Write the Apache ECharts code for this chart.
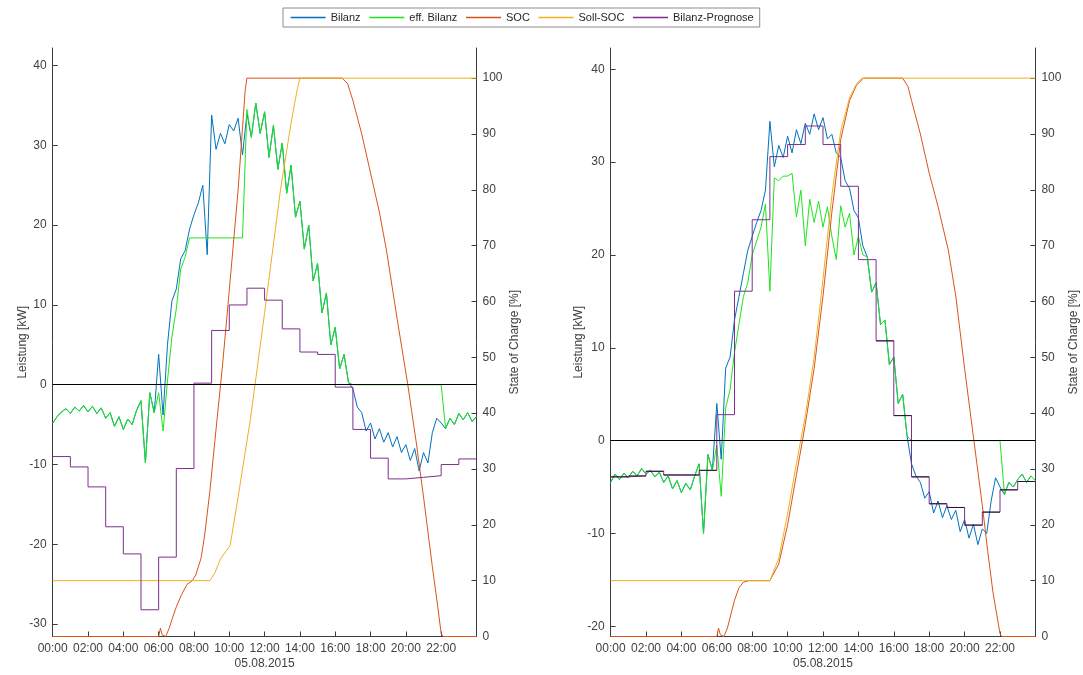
<!DOCTYPE html>
<html>
<head>
<meta charset="utf-8">
<title>Bilanz / SOC 05.08.2015</title>
<script src="https://cdn.jsdelivr.net/npm/echarts@6/dist/echarts.min.js"></script>
<style>
  html, body { margin: 0; padding: 0; background: #fff; }
  #chart { width: 1083px; height: 675px; }
</style>
</head>
<body>
<div id="chart"></div>
<script>
// ---- data ----
const seriesNames = ['Bilanz', 'eff. Bilanz', 'SOC', 'Soll-SOC', 'Bilanz-Prognose']
const dateLabel = '05.08.2015'

// 15 minute grid 00:00 .. 24:00
const hours = Array.from({ length: 97 }, (_, i) => i * 0.25)

// left chart
const bilanzLeft = [
  -4.8, -4.0, -3.4, -3.0, -3.6, -2.8, -3.3, -2.6, -3.4, -2.7, -3.6, -2.9, -4.2, -3.5, -5.2, -4.0, -5.6, -4.3, -5.0, -3.2, -2.0, -9.8, -1.0, -3.5,
  3.8, -3.8, 5.0, 10.5, 12.0, 15.8, 16.8, 19.5, 21.3, 22.8, 25.0, 16.3, 33.8, 29.5, 31.5, 30.2, 32.6, 31.8, 33.4, 28.8,
  34.0, 31.0, 35.3, 31.5, 34.2, 28.5, 32.5, 27.0, 30.3, 24.0, 27.5, 21.0, 23.0, 17.0, 20.0, 13.0, 15.2, 9.0, 11.5, 5.0, 7.2, 2.0, 3.8, 0.3,
  -0.5, -2.8, -3.5, -5.8, -4.8, -6.8, -5.5, -7.2, -6.0, -7.8, -6.5, -8.5, -7.5, -9.5, -8.0, -10.8, -8.5, -9.8, -6.0, -4.2,
  -4.8, -5.5, -4.2, -5.0, -3.6, -4.4, -3.5, -4.6, -4.0
]
const effBilanzLeft = [
  -4.8, -4.0, -3.4, -3.0, -3.6, -2.8, -3.3, -2.6, -3.4, -2.7, -3.6, -2.9, -4.2, -3.5, -5.2, -4.0, -5.6, -4.3, -5.0, -3.2, -2.0, -9.8, -1.0, -3.5,
  -1.0, -5.8, 0.5, 6.0, 9.5, 14.5, 16.0, 18.4, 18.4, 18.4, 18.4, 18.4, 18.4, 18.4, 18.4, 18.4, 18.4, 18.4, 18.4, 18.4,
  34.5, 31.0, 35.3, 31.5, 34.2, 28.5, 32.5, 27.0, 30.3, 24.0, 27.5, 21.0, 23.0, 17.0, 20.0, 13.0, 15.2, 9.0, 11.5, 5.0, 7.2, 2.0, 3.8, 0.3,
  0, 0, 0, 0, 0, 0, 0, 0, 0, 0, 0, 0, 0, 0, 0, 0, 0, 0, 0, 0,
  0, -5.5, -4.2, -5.0, -3.6, -4.4, -3.5, -4.6, -4.0
]
const socLeftHours = [0, 6.0, 6.1, 6.2, 6.4, 6.6, 6.8, 7.0, 7.3, 7.6, 7.9, 8.1, 8.4, 8.6, 8.9, 9.3, 9.6, 10.0, 10.5, 10.9, 11.0, 16.4, 16.7, 17.0, 17.5, 18.0, 18.5, 18.9, 19.5, 20.1, 20.6, 21.0, 21.5, 21.8, 22.0, 22.1, 24]
const socLeft = [0, 0, 1.5, 0.3, 0, 1.5, 3.5, 5.3, 7.5, 9.3, 10, 11, 14, 18, 26, 38.7, 48, 62, 80, 97.8, 100, 100, 99, 96, 90, 83, 76, 69.2, 57, 45.3, 34.5, 25, 12.5, 5.5, 0.5, 0, 0]
const sollLeftHours = [0, 8.9, 9.2, 9.5, 9.8, 10.05, 10.5, 11.2, 12.0, 12.9, 13.5, 13.85, 14.0, 24]
const sollLeft = [10, 10, 11.5, 13.9, 15.2, 16.3, 25, 39, 58, 80, 92, 98, 100, 100]
const progHours = Array.from({ length: 25 }, (_, i) => i)
const prognoseLeft = [-9.0, -10.3, -12.8, -17.8, -21.2, -28.2, -21.6, -10.5, 0.2, 6.8, 10.0, 12.1, 10.6, 7.0, 4.1, 3.8, -0.3, -5.6, -9.2, -11.8, -11.6, -11.4, -10.0, -9.3, -9.3]

// right chart
const bilanzRight = [
  -4.5, -3.6, -4.2, -3.5, -4.0, -3.3, -3.8, -3.0, -3.6, -3.2, -3.9, -3.4, -4.5, -3.8, -5.2, -4.3, -5.6, -4.6, -5.3, -3.8, -2.5, -10.0, -1.5, -3.2,
  4.0, -2.0, 7.8, 9.0, 13.0, 15.5, 18.0, 20.5, 22.0, 23.5, 24.8, 27.0, 34.4, 29.5, 31.8, 30.5, 32.8, 31.0, 33.5, 32.0,
  34.2, 33.0, 35.2, 33.5, 34.8, 32.5, 33.0, 31.0, 30.5, 28.0, 27.2, 24.8, 24.0, 21.0,
  19.8, 16.0, 17.0, 12.5, 13.0, 8.2, 9.0, 4.0, 5.0, 0.5,
  -2.5, -3.8, -4.5, -6.2, -5.5, -7.8, -6.5, -8.3, -7.0, -8.5, -7.5, -9.8, -8.5, -10.5, -9.0, -11.2, -9.5, -10.0, -6.5, -4.0,
  -5.0, -5.8, -4.5, -5.0, -4.2, -3.6, -4.5, -3.8, -4.3
]
const effBilanzRight = [
  -4.5, -3.6, -4.2, -3.5, -4.0, -3.3, -3.8, -3.0, -3.6, -3.2, -3.9, -3.4, -4.5, -3.8, -5.2, -4.3, -5.6, -4.6, -5.3, -3.8, -2.5, -10.0, -1.5, -3.2,
  -0.5, -6.0, 3.5, 5.5, 9.5, 12.5, 15.5, 17.0, 20.0, 21.5, 23.0, 25.5, 16.1, 28.3, 28.0, 28.5, 28.5, 28.8, 24.1, 27.0,
  21.0, 26.0, 23.5, 25.8, 23.0, 25.2, 22.0, 19.5, 25.3, 23.0, 24.5, 20.0, 22.0, 20.0,
  19.8, 16.0, 17.0, 12.5, 13.0, 8.2, 9.0, 4.0, 5.0, 0.5,
  0, 0, 0, 0, 0, 0, 0, 0, 0, 0, 0, 0, 0, 0, 0, 0, 0, 0, 0, 0,
  0, -5.8, -4.5, -5.0, -4.2, -3.6, -4.5, -3.8, -4.3
]
const socRightHours = [0, 6.0, 6.1, 6.2, 6.4, 6.6, 6.8, 7.0, 7.25, 7.5, 7.8, 9.0, 9.5, 10, 10.5, 11, 11.5, 12, 12.5, 13, 13.5, 13.9, 14.3, 16.5, 16.8, 17, 17.5, 18, 18.5, 19.08, 19.5, 20, 20.5, 21, 21.3, 21.6, 22, 22.1, 24]
const socRight = [0, 0, 1.5, 0.3, 0, 1.5, 4, 6.5, 8.7, 9.7, 10, 10, 13, 20, 29, 38, 48, 61, 76, 89, 96, 98.8, 100, 100, 98.5, 96, 90, 83, 77, 69.2, 61, 48, 35.7, 23.5, 15.4, 8, 0.5, 0, 0]
const sollRightHours = [0, 9.0, 9.5, 10, 10.5, 11, 11.5, 12, 12.5, 13, 13.5, 13.9, 14.2, 24]
const sollRight = [10, 10, 14, 22, 31, 39.5, 50, 64, 79, 90.5, 96.5, 99, 100, 100]
const prognoseRight = [-3.9, -3.8, -3.3, -3.7, -3.7, -3.2, 2.8, 16.1, 23.8, 30.6, 31.9, 33.9, 31.9, 27.4, 19.5, 10.75, 2.7, -3.9, -6.8, -7.2, -9.1, -7.7, -5.3, -4.4, -4.4]
// dark hourly bars drawn over the forecast steps (only where they show)
const hourlyRight = [-3.9, -3.8, -3.3, -3.7, -3.7, -3.2, null, null, null, null, null, null, null, null, null, 10.75, 2.7, -3.9, -6.8, -7.2, -9.1, -7.7, -5.3, -4.4]

// axis ticks
const kwTicksLeft = [-30, -20, -10, 0, 10, 20, 30, 40]
const kwTicksRight = [-20, -10, 0, 10, 20, 30, 40]
const socTicks = [0, 10, 20, 30, 40, 50, 60, 70, 80, 90, 100]

// ---- chart ----
const colors = ['#0072BD', '#1ee41e', '#D95319', '#EDB120', '#7E2F8E']
const font = "'Liberation Sans', Arial, sans-serif"
const axisCol = '#3c3c3c'
const textCol = '#404040'

const pairs = (xs, ys) => xs.map((x, i) => [x, ys[i]])
const hhmm = v => (v >= 24 ? '' : (v < 10 ? '0' : '') + v + ':00')

function segments(vals) {
    const out = []
    vals.forEach((v, h) => {
        if (v === null) return
        out.push([h, v], [h + 1, v], [h + 1, null])
    })
    return out
}

function xAxisFor(grid) {
    return {
        type: 'value', gridIndex: grid, min: 0, max: 24, interval: 2,
        name: dateLabel, nameLocation: 'middle', nameGap: 21, nameMoveOverlap: false,
        nameTextStyle: { fontFamily: font, fontSize: 12, color: textCol },
        axisLine: { onZero: false, lineStyle: { color: axisCol, width: 1 } },
        axisTick: { inside: true, length: 5, lineStyle: { color: axisCol } },
        axisLabel: { formatter: hhmm, fontFamily: font, fontSize: 12, color: textCol, margin: 6, showMaxLabel: true },
        splitLine: { show: false }
    }
}

function kwAxis(grid, min, max, ticks, gap) {
    return {
        type: 'value', gridIndex: grid, position: 'left', min: min, max: max,
        name: 'Leistung [kW]', nameLocation: 'middle', nameRotate: 90, nameGap: gap, nameMoveOverlap: false,
        nameTextStyle: { fontFamily: font, fontSize: 12, color: textCol },
        axisLine: { show: true, onZero: false, lineStyle: { color: axisCol, width: 1 } },
        axisTick: { show: true, inside: true, length: 5, customValues: ticks, lineStyle: { color: axisCol } },
        axisLabel: { customValues: ticks, fontFamily: font, fontSize: 12, color: textCol, margin: 6 },
        splitLine: { show: false }
    }
}

function socAxis(grid) {
    return {
        type: 'value', gridIndex: grid, position: 'right', min: 0, max: 105.4,
        name: 'State of Charge [%]', nameLocation: 'middle', nameRotate: 90, nameGap: 32, nameMoveOverlap: false,
        nameTextStyle: { fontFamily: font, fontSize: 12, color: textCol },
        axisLine: { show: true, onZero: false, lineStyle: { color: axisCol, width: 1 } },
        axisTick: { show: true, inside: true, length: 5, customValues: socTicks, lineStyle: { color: axisCol } },
        axisLabel: { customValues: socTicks, fontFamily: font, fontSize: 12, color: textCol, margin: 6 },
        splitLine: { show: false }
    }
}

function line(name, grid, yIdx, data, color, extra) {
    return Object.assign({
        name: name, type: 'line', xAxisIndex: grid, yAxisIndex: yIdx,
        data: data, symbol: 'none', showSymbol: false, silent: true, color: color,
        lineStyle: { color: color, width: 1 }, itemStyle: { color: color }
    }, extra || {})
}

const zeroMark = {
    silent: true, symbol: 'none', label: { show: false },
    lineStyle: { color: '#000', width: 1, type: 'solid' },
    data: [{ yAxis: 0 }]
}

function chartSeries(grid, bil, eff, soc, socH, soll, sollH, prog) {
    const kw = grid * 2, pct = grid * 2 + 1
    return [
        line(seriesNames[0], grid, kw, pairs(hours, bil), colors[0]),
        line(seriesNames[1], grid, kw, pairs(hours, eff), colors[1]),
        line(seriesNames[2], grid, pct, pairs(socH, soc), colors[2]),
        line(seriesNames[3], grid, pct, pairs(sollH, soll), colors[3]),
        line(seriesNames[4], grid, kw, pairs(progHours, prog), colors[4], { step: 'end', markLine: zeroMark, z: 3 })
    ]
}

const series = []
    .concat(chartSeries(0, bilanzLeft, effBilanzLeft, socLeft, socLeftHours, sollLeft, sollLeftHours, prognoseLeft))
    .concat(chartSeries(1, bilanzRight, effBilanzRight, socRight, socRightHours, sollRight, sollRightHours, prognoseRight))
series.push({
    type: 'line', xAxisIndex: 1, yAxisIndex: 2, data: segments(hourlyRight),
    symbol: 'none', silent: true, connectNulls: false, z: 3,
    lineStyle: { color: '#2a1630', width: 1 }
})

const option = {
    animation: false,
    backgroundColor: '#fff',
    legend: {
        data: seriesNames.map((n, i) => ({
            name: n,
            itemStyle: { color: colors[i], opacity: 0 },
            lineStyle: { color: colors[i], width: 1.3, opacity: 1 }
        })),
        left: 283, top: 8,
        padding: [3, 6, 3, 7], itemWidth: 35, itemHeight: 12, itemGap: 8,
        borderColor: '#8c8c8c', borderWidth: 1,
        textStyle: { fontFamily: font, fontSize: 11, color: '#262626', lineHeight: 13 }
    },
    grid: [
        { left: 52.7, top: 48, width: 423.8, height: 588.5, outerBoundsMode: 'none' },
        { left: 610.6, top: 48, width: 424.8, height: 588.5, outerBoundsMode: 'none' }
    ],
    xAxis: [xAxisFor(0), xAxisFor(1)],
    yAxis: [
        kwAxis(0, -31.55, 42.2, kwTicksLeft, 24), socAxis(0),
        kwAxis(1, -21.1, 42.3, kwTicksRight, 26), socAxis(1)
    ],
    series: series
}

const chart = echarts.init(document.getElementById('chart'))
chart.setOption(option)
</script>
</body>
</html>
